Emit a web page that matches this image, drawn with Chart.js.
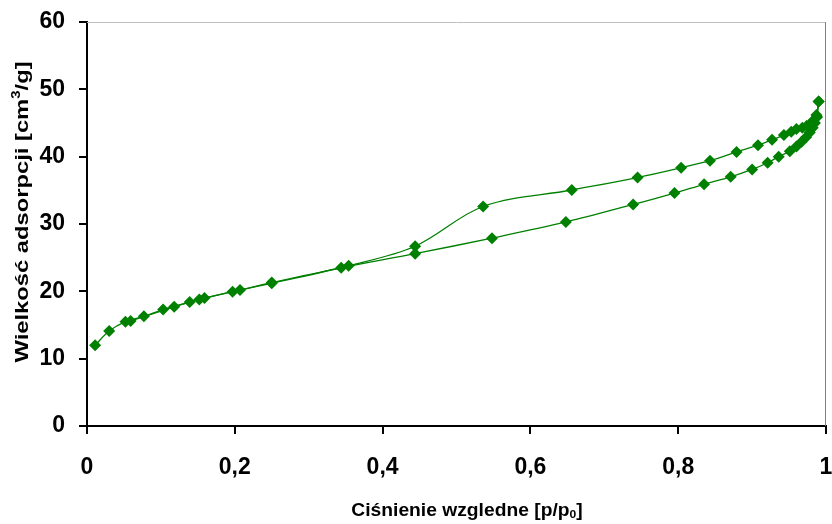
<!DOCTYPE html>
<html>
<head>
<meta charset="utf-8">
<script src="https://cdn.jsdelivr.net/npm/chart.js@4/dist/chart.umd.min.js"></script>
<style>
  html, body { margin: 0; padding: 0; background: #fff; }
  #wrap { width: 832px; height: 524px; }
  canvas { display: block; }
</style>
</head>
<body>
<div id="wrap"><canvas id="c" width="832" height="524"></canvas></div>
<script>
// Adsorption branch (increasing relative pressure)
const pressureAds = [0.011, 0.030, 0.052, 0.077, 0.103, 0.139, 0.159, 0.207, 0.250, 0.344,
                     0.444, 0.548, 0.648, 0.739, 0.795, 0.835, 0.871, 0.900, 0.921, 0.936,
                     0.951, 0.960, 0.967, 0.973, 0.978, 0.982, 0.985, 0.988, 0.990];
const volumeAds   = [12.0, 14.1, 15.5, 16.3, 17.3, 18.4, 19.0, 20.2, 21.3, 23.5,
                     25.6, 27.9, 30.3, 32.9, 34.6, 35.9, 37.0, 38.1, 39.1, 40.0,
                     40.8, 41.5, 42.2, 42.9, 43.6, 44.3, 45.0, 45.9, 48.2];

// Desorption branch (decreasing relative pressure)
const pressureDes = [0.990, 0.987, 0.983, 0.979, 0.974, 0.968, 0.960, 0.953, 0.943, 0.927,
                     0.908, 0.879, 0.843, 0.804, 0.745, 0.656, 0.536, 0.444, 0.354, 0.250,
                     0.197, 0.152, 0.118, 0.059];
const volumeDes   = [48.2, 46.2, 45.4, 44.9, 44.6, 44.3, 44.1, 43.7, 43.2, 42.5,
                     41.7, 40.7, 39.4, 38.35, 36.9, 35.05, 32.6, 26.7, 23.8, 21.2,
                     19.95, 18.8, 17.7, 15.6];

const xTicks = [0, 0.2, 0.4, 0.6, 0.8, 1];
const yTicks = [0, 10, 20, 30, 40, 50, 60];

// Axis titles as runs of normal / superscript / subscript text
const xTitleRuns = [['Ciśnienie wzgledne [p/p', 'n'], ['0', 'sub'], [']', 'n']];
const yTitleRuns = [['Wielkość adsorpcji [cm', 'n'], ['3', 'sup'], ['/g]', 'n']];

const GREEN = '#008000';
const FONT = '"Liberation Sans", Arial, sans-serif';

function toPoints(xs, ys) { return xs.map((x, i) => ({ x: x, y: ys[i] })); }

function fmtTick(v) { return String(Number(v.toFixed(1))).replace('.', ','); }

// draws a run list centred on (0,0) of the current transform
function drawRuns(ctx, runs, size, stretch) {
  const small = Math.round(size * 0.65);
  const parts = runs.map(([t, m]) => {
    const f = (m === 'n' ? size : small);
    ctx.font = 'bold ' + f + 'px ' + FONT;
    return { t, m, f, w: ctx.measureText(t).width };
  });
  const total = parts.reduce((s, p) => s + p.w, 0);
  ctx.save();
  ctx.scale(stretch, 1);
  let x = -total / 2;
  ctx.textBaseline = 'middle';
  ctx.textAlign = 'left';
  ctx.fillStyle = '#000';
  for (const p of parts) {
    ctx.font = 'bold ' + p.f + 'px ' + FONT;
    let dy = 0;
    if (p.m === 'sup') dy = -size * 0.35;
    if (p.m === 'sub') dy = size * 0.25;
    ctx.fillText(p.t, x, dy);
    x += p.w;
  }
  ctx.restore();
}

const framePlugin = {
  id: 'frame',
  beforeDatasetsDraw(chart) {
    const { ctx, chartArea: a } = chart;
    ctx.save();
    ctx.lineWidth = 1;
    ctx.strokeStyle = '#c0c0c0';
    ctx.beginPath(); ctx.moveTo(a.left, a.top + 0.5); ctx.lineTo(a.right, a.top + 0.5); ctx.stroke();
    ctx.strokeStyle = '#808080';
    ctx.beginPath(); ctx.moveTo(a.right - 0.5, a.top); ctx.lineTo(a.right - 0.5, a.bottom); ctx.stroke();
    ctx.restore();
  },
  afterDraw(chart) {
    const { ctx } = chart;
    ctx.save();
    ctx.translate(467, 511);
    drawRuns(ctx, xTitleRuns, 17.5, 1.1);
    ctx.restore();
    ctx.save();
    ctx.translate(23, 212);
    ctx.rotate(-Math.PI / 2);
    drawRuns(ctx, yTitleRuns, 19, 1.25);
    ctx.restore();
  }
};

const seriesStyle = {
  borderColor: GREEN,
  backgroundColor: GREEN,
  borderWidth: 1.3,
  pointStyle: 'rectRot',
  pointRadius: 6,
  pointHoverRadius: 6,
  pointBorderWidth: 0,
  pointBackgroundColor: GREEN,
  showLine: true,
  tension: 0.35,
  fill: false,
  clip: false
};

new Chart(document.getElementById('c'), {
  type: 'scatter',
  data: {
    datasets: [
      Object.assign({ label: 'adsorpcja', data: toPoints(pressureAds, volumeAds) }, seriesStyle),
      Object.assign({ label: 'desorpcja', data: toPoints(pressureDes, volumeDes) }, seriesStyle)
    ]
  },
  options: {
    responsive: false,
    animation: false,
    devicePixelRatio: 1,
    layout: { padding: { top: 22, right: 3, left: 0, bottom: 0 } },
    plugins: { legend: { display: false }, tooltip: { enabled: false } },
    scales: {
      x: {
        type: 'linear',
        min: 0, max: 1,
        afterBuildTicks(s) { s.ticks = xTicks.map(v => ({ value: v })); },
        afterFit(s) { s.height = 98; s.paddingLeft = 0; s.paddingRight = 0; },
        border: { display: true, color: '#000', width: 2 },
        grid: { drawOnChartArea: false, drawTicks: true, tickLength: 8, color: '#000', lineWidth: 2 },
        ticks: {
          color: '#000', padding: 20, maxRotation: 0,
          font: { family: FONT, size: 23, weight: 'bold' },
          callback: v => fmtTick(v)
        }
      },
      y: {
        type: 'linear',
        min: 0, max: 60,
        afterBuildTicks(s) { s.ticks = yTicks.map(v => ({ value: v })); },
        afterFit(s) { s.width = 87; s.paddingTop = 0; s.paddingBottom = 0; },
        border: { display: true, color: '#000', width: 2 },
        grid: { drawOnChartArea: false, drawTicks: true, tickLength: 8, color: '#000', lineWidth: 2 },
        ticks: {
          color: '#000', padding: 14,
          font: { family: FONT, size: 23, weight: 'bold' },
          callback: v => String(v)
        }
      }
    }
  },
  plugins: [framePlugin]
});
</script>
</body>
</html>
